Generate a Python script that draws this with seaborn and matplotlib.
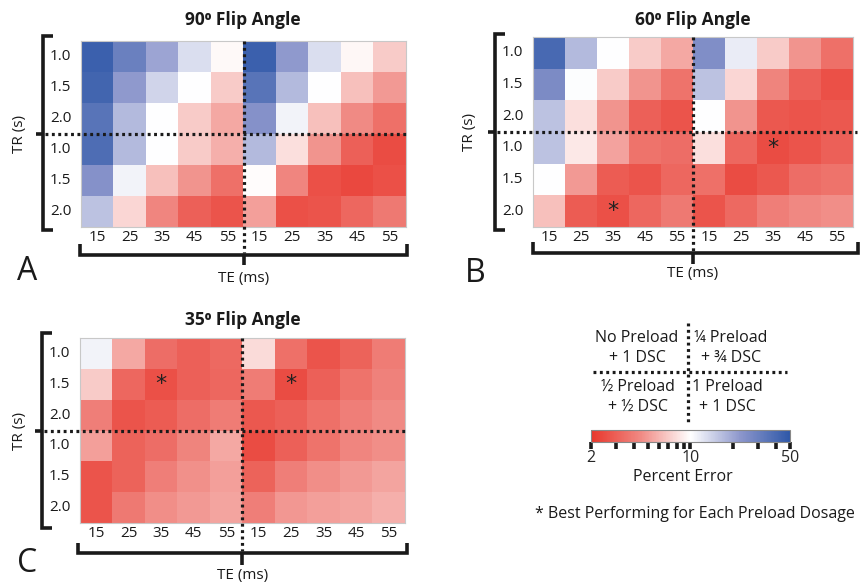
import numpy as np
import pandas as pd
import matplotlib
matplotlib.use("Agg")
import matplotlib.pyplot as plt
import seaborn as sns
from matplotlib.colors import LinearSegmentedColormap, LogNorm
from matplotlib.lines import Line2D
from matplotlib.ticker import FixedLocator, NullFormatter, FixedFormatter
import matplotlib.cm as cm

sns.set_theme(style="white")
plt.rcParams['font.family'] = ['Open Sans', 'DejaVu Sans']

# ---------------- data ----------------
te_labels = ["15", "25", "35", "45", "55", "15", "25", "35", "45", "55"]
tr_labels = ["1.0", "1.5", "2.0", "1.0", "1.5", "2.0"]

fa90 = [
    [45, 30, 20, 13, 9.6, 45, 22, 13, 9.5, 7.0],
    [42, 22, 14, 10, 7.0, 35, 17, 10, 6.5, 5.0],
    [35, 17, 10, 7.0, 5.5, 24, 11, 6.5, 4.5, 3.5],
    [38, 17, 10, 7.0, 5.8, 17, 8.0, 4.8, 3.0, 2.5],
    [24, 11, 6.5, 4.8, 3.5, 9.8, 4.3, 2.6, 2.4, 2.6],
    [16, 7.5, 4.3, 3.0, 2.7, 5.2, 2.6, 2.7, 3.2, 3.8],
]
fa60 = [
    [40, 17, 10, 7.0, 5.5, 25, 11.5, 7.0, 4.8, 3.5],
    [26, 10.2, 7.0, 4.8, 3.6, 16, 7.5, 4.2, 3.0, 2.6],
    [16, 8.0, 4.8, 3.0, 2.7, 10, 4.8, 2.8, 2.7, 2.8],
    [16, 8.5, 5.3, 3.6, 3.4, 8.0, 3.2, 2.5, 2.7, 3.0],
    [10, 5.0, 2.9, 2.7, 3.2, 3.5, 2.5, 2.8, 3.4, 3.6],
    [6.5, 2.9, 2.6, 3.2, 3.8, 2.7, 3.3, 4.0, 4.4, 4.6],
]
fa35 = [
    [11, 5.5, 3.4, 3.0, 3.3, 7.8, 3.5, 2.7, 3.1, 3.9],
    [7.0, 3.2, 2.6, 3.0, 3.2, 3.9, 2.5, 3.0, 3.6, 4.1],
    [4.0, 2.7, 2.9, 3.4, 3.9, 2.8, 3.0, 3.5, 4.0, 4.5],
    [5.2, 3.1, 3.4, 4.2, 5.5, 2.5, 3.0, 3.6, 4.3, 4.6],
    [2.7, 3.1, 4.0, 4.7, 5.2, 3.1, 4.0, 4.6, 5.0, 5.4],
    [2.7, 3.8, 4.6, 5.0, 5.4, 4.0, 4.9, 5.2, 5.4, 5.8],
]
best90 = []
best60 = [(5, 2), (3, 7)]
best35 = [(1, 2), (1, 6)]

titles = ["90\u2070 Flip Angle", "60\u2070 Flip Angle", "35\u2070 Flip Angle"]
letters = ["A", "B", "C"]
quad_labels = ["No Preload\n+ 1 DSC", "\u00bc Preload\n+ \u00be DSC",
               "\u00bd Preload\n+ \u00bd DSC", "1 Preload\n+ 1 DSC"]
cbar_major = [2, 10, 50]
cbar_minor = [3, 4, 5, 6, 7, 8, 9, 20, 30, 40]

# ---------------- figure ----------------
W, H = 862, 582
fig = plt.figure(figsize=(W / 100, H / 100), dpi=100)
fig.patch.set_facecolor("white")

def fx(x):
    return x / W

def fy(y):
    return 1 - y / H

def add_ax(x0, y0, x1, y1):
    return fig.add_axes([fx(x0), fy(y1), (x1 - x0) / W, (y1 - y0) / H])

def line(xs, ys, **kw):
    fig.add_artist(Line2D([fx(x) for x in xs], [fy(y) for y in ys],
                          transform=fig.transFigure, **kw))

def text(x, y, s, **kw):
    fig.text(fx(x), fy(y), s, **kw)

cmap = LinearSegmentedColormap.from_list(
    "rwb", ["#e8362b", "#f08a84", "#ffffff", "#8d97cc", "#2f58a8"])
norm = LogNorm(vmin=2, vmax=50)

BR = dict(color="#1a1a1a", lw=2.6, solid_capstyle="butt", solid_joinstyle="miter")
DOT = dict(color="#1a1a1a", lw=2.3, linestyle=(0, (0.9, 1.1)), dash_capstyle="butt")

panels = [
    dict(data=fa90, best=best90, box=(81, 41, 406, 227), ybx=43, yb=(36, 230),
         bbx=(80, 407), bby=255, bbtop=244, bbtick=265, te_y=278,
         letter=(27, 272), title=(243, 20), trx=20),
    dict(data=fa60, best=best60, box=(533, 37, 853, 227), ybx=495, yb=(34, 230),
         bbx=(533, 858), bby=253, bbtop=242, bbtick=264, te_y=273,
         letter=(475, 273), title=(693, 20), trx=470),
    dict(data=fa35, best=best35, box=(80, 338, 405, 523), ybx=42, yb=(333, 528),
         bbx=(78, 407), bby=553, bbtop=543, bbtick=565, te_y=575,
         letter=(27, 563), title=(243, 320), trx=20),
]

for i, p in enumerate(panels):
    x0, y0, x1, y1 = p["box"]
    ax = add_ax(x0, y0, x1, y1)
    df = pd.DataFrame(p["data"], index=tr_labels, columns=range(10))
    annot = np.full(df.shape, "", dtype=object)
    for (r, c) in p["best"]:
        annot[r, c] = "*"
    sns.heatmap(df, ax=ax, cmap=cmap, norm=norm, cbar=False,
                xticklabels=te_labels, yticklabels=tr_labels,
                annot=annot, fmt="",
                annot_kws=dict(fontsize=16, color="#222222", family="DejaVu Sans"))
    ax.tick_params(axis="both", length=0, labelsize=11, colors="#1a1a1a")
    ax.tick_params(axis="x", pad=2)
    ax.tick_params(axis="y", pad=7)
    plt.setp(ax.get_yticklabels(), rotation=0)
    plt.setp(ax.get_xticklabels(), rotation=0)
    ax.set_xlabel("")
    ax.set_ylabel("")
    for s in ax.spines.values():
        s.set_visible(True)
        s.set_color("#c8c8c8")
        s.set_linewidth(0.8)

    # title
    text(p["title"][0], p["title"][1], titles[i], ha="center", va="center",
         fontsize=12.5, fontweight="bold", color="#1a1a1a")
    # panel letter
    text(p["letter"][0], p["letter"][1], letters[i], ha="center", va="center",
         fontsize=23, color="#1a1a1a")

    # y bracket
    bx = p["ybx"]
    ya, yb = p["yb"]
    ymid = y0 + (y1 - y0) / 2
    line([bx + 10, bx, bx, bx + 10], [ya, ya, yb, yb], **BR)
    line([bx, bx - 7], [ymid, ymid], **BR)
    text(p["trx"], ymid, "TR (s)", rotation=90, ha="center", va="center",
         fontsize=11, color="#1a1a1a")

    # bottom bracket
    xa, xb = p["bbx"]
    xmid = x0 + (x1 - x0) / 2
    line([xa, xa, xb, xb], [p["bbtop"], p["bby"], p["bby"], p["bbtop"]], **BR)
    line([xmid, xmid], [p["bby"], p["bbtick"]], **BR)
    text(xmid, p["te_y"], "TE (ms)", ha="center", va="center",
         fontsize=11, color="#1a1a1a")

    # dotted separators
    line([xmid, xmid], [y0, p["bby"] - 2], **DOT)
    line([bx + 2, x1 + (4 if i == 1 else 0)], [ymid, ymid], **DOT)

# ---------------- legend quadrants ----------------
qx = [637, 731, 638, 727]
qy = [348, 348, 397, 397]
for s, x, y in zip(quad_labels, qx, qy):
    text(x, y, s, ha="center", va="center", fontsize=11.5, color="#1a1a1a",
         linespacing=1.3)
line([688, 688], [323, 423], **DOT)
line([593, 787], [372, 372], **DOT)

# ---------------- colorbar ----------------
cax = add_ax(591, 430, 790, 442)
sm = cm.ScalarMappable(norm=norm, cmap=cmap)
cb = fig.colorbar(sm, cax=cax, orientation="horizontal")
cb.outline.set_edgecolor("#888888")
cb.outline.set_linewidth(0.8)
cax.xaxis.set_major_locator(FixedLocator(cbar_major))
cax.xaxis.set_minor_locator(FixedLocator(cbar_minor))
cax.xaxis.set_major_formatter(FixedFormatter([str(v) for v in cbar_major]))
cax.xaxis.set_minor_formatter(NullFormatter())
cax.tick_params(axis="x", which="both", direction="out", length=5, width=2.6,
                color="#1a1a1a", labelsize=11.5, pad=1, bottom=True)
text(683, 477, "Percent Error", ha="center", va="center", fontsize=11.5, color="#1a1a1a")

text(535, 514, "* Best Performing for Each Preload Dosage", ha="left", va="center",
     fontsize=11.5, color="#1a1a1a")

fig.savefig("out.png", dpi=100, facecolor="white")
